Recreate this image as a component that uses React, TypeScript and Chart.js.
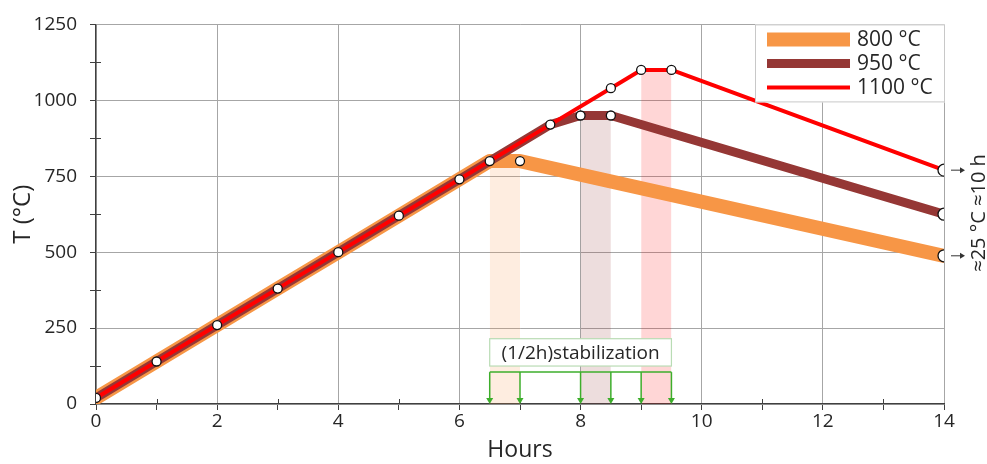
import React, { useEffect, useRef } from 'react';
import { Chart, registerables } from 'chart.js';
Chart.register(...registerables);

// ---- data ----
const rampHours = [0, 1, 2, 3, 4, 5, 6, 6.5];
const rampTemps = [20, 140, 260, 380, 500, 620, 740, 800];
const s800Hours = [7, 14];
const s800Temps = [800, 488];
const s950Hours = [7.5, 8, 8.5, 14];
const s950Temps = [920, 950, 950, 625];
const s1100Hours = [7.5, 8.5, 9, 9.5, 14];
const s1100Temps = [920, 1040, 1100, 1100, 770];
const seriesLabels = ['800 °C', '950 °C', '1100 °C'];
const seriesColors = ['#F79646', '#953735', '#FF0000'];
const seriesWidths = [14, 9, 4];
const stabStart = [6.5, 8, 9];
const stabEnd = [7, 8.5, 9.5];
const stabTemp = [800, 950, 1100];
const bandColors = ['rgba(247,150,70,0.17)', 'rgba(149,55,53,0.17)', 'rgba(255,0,0,0.16)'];
const stabLabel = '(1/2h)stabilization';
const stabBoxTemps = [125, 215];
const stabBracketTemp = 105;
const coolingNote = '≈25 °C ≈10 h';

const FONT = "'Open Sans', 'Segoe UI', sans-serif";
const TEXT = '#262626';

function pts(hs: number[], ts: number[]) {
  return hs.map((h, i) => ({ x: h, y: ts[i] }));
}

const annotations = {
  id: 'annotations',
  afterDatasetsDraw(chart: any) {
    const { ctx, chartArea, scales } = chart;
    const xs = scales.x, ys = scales.y;
    ctx.save();
    // inner halves of minor ticks
    ctx.strokeStyle = '#404040';
    ctx.lineWidth = 1;
    ys.ticks.forEach((t: any) => {
      if (t.value % 250 !== 0) {
        const py = Math.round(ys.getPixelForValue(t.value)) + 0.5;
        ctx.beginPath();
        ctx.moveTo(chartArea.left, py);
        ctx.lineTo(chartArea.left + 5, py);
        ctx.stroke();
      }
    });
    xs.ticks.forEach((t: any) => {
      if (t.value % 2 !== 0) {
        const px = Math.round(xs.getPixelForValue(t.value)) + 0.5;
        ctx.beginPath();
        ctx.moveTo(px, chartArea.bottom);
        ctx.lineTo(px, chartArea.bottom - 5);
        ctx.stroke();
      }
    });
    // stabilization box
    const bx0 = xs.getPixelForValue(stabStart[0]);
    const bx1 = xs.getPixelForValue(stabEnd[stabEnd.length - 1]);
    const by0 = ys.getPixelForValue(stabBoxTemps[1]);
    const by1 = ys.getPixelForValue(stabBoxTemps[0]);
    ctx.fillStyle = '#ffffff';
    ctx.fillRect(bx0, by0, bx1 - bx0, by1 - by0);
    ctx.strokeStyle = '#b9dcb4';
    ctx.lineWidth = 1.2;
    ctx.strokeRect(bx0, by0, bx1 - bx0, by1 - by0);
    ctx.fillStyle = TEXT;
    ctx.font = `19px ${FONT}`;
    ctx.textAlign = 'center';
    ctx.textBaseline = 'middle';
    ctx.fillText(stabLabel, (bx0 + bx1) / 2, (by0 + by1) / 2 + 1);
    // bracket
    const green = '#3dae2b';
    const yb = ys.getPixelForValue(stabBracketTemp);
    const y0 = ys.getPixelForValue(0);
    ctx.strokeStyle = green;
    ctx.fillStyle = green;
    ctx.lineWidth = 1.5;
    ctx.beginPath();
    ctx.moveTo(bx0, yb);
    ctx.lineTo(bx1, yb);
    ctx.stroke();
    const arrowXs = [...stabStart, ...stabEnd];
    arrowXs.forEach((h) => {
      const px = xs.getPixelForValue(h);
      ctx.beginPath();
      ctx.moveTo(px, yb);
      ctx.lineTo(px, y0 - 4);
      ctx.stroke();
      ctx.beginPath();
      ctx.moveTo(px - 3.5, y0 - 6);
      ctx.lineTo(px + 3.5, y0 - 6);
      ctx.lineTo(px, y0);
      ctx.closePath();
      ctx.fill();
    });
    // right arrows
    ctx.strokeStyle = '#333';
    ctx.fillStyle = '#333';
    ctx.lineWidth = 1;
    [s1100Temps[s1100Temps.length - 1], s800Temps[s800Temps.length - 1]].forEach((t) => {
      const px = xs.getPixelForValue(14) + 7;
      const py = ys.getPixelForValue(t);
      ctx.beginPath();
      ctx.moveTo(px, py);
      ctx.lineTo(px + 9, py);
      ctx.stroke();
      ctx.beginPath();
      ctx.moveTo(px + 9, py - 3);
      ctx.lineTo(px + 14, py);
      ctx.lineTo(px + 9, py + 3);
      ctx.closePath();
      ctx.fill();
    });
    // rotated note
    const midT = (s1100Temps[s1100Temps.length - 1] + s800Temps[s800Temps.length - 1]) / 2;
    ctx.save();
    ctx.translate(chartArea.right + 35, ys.getPixelForValue(midT));
    ctx.rotate(-Math.PI / 2);
    ctx.fillStyle = TEXT;
    ctx.font = `20px ${FONT}`;
    ctx.textAlign = 'center';
    ctx.textBaseline = 'middle';
    ctx.fillText(coolingNote, 0, 0);
    ctx.restore();
    // legend
    const lw = 190, lh = 78;
    const lx = chartArea.right - lw + 1, ly = chartArea.top;
    ctx.fillStyle = '#ffffff';
    ctx.fillRect(lx, ly, lw, lh);
    ctx.strokeStyle = '#c8c8c8';
    ctx.lineWidth = 1;
    ctx.strokeRect(lx + 0.5, ly + 0.5, lw - 1, lh - 1);
    seriesLabels.forEach((lab, i) => {
      const yy = ly + 15 + i * 24;
      ctx.strokeStyle = seriesColors[i];
      ctx.lineWidth = seriesWidths[i];
      ctx.lineCap = 'butt';
      ctx.beginPath();
      ctx.moveTo(lx + 12, yy);
      ctx.lineTo(lx + 95, yy);
      ctx.stroke();
      ctx.fillStyle = TEXT;
      ctx.font = `21px ${FONT}`;
      ctx.textAlign = 'left';
      ctx.textBaseline = 'middle';
      ctx.fillText(lab, lx + 102, yy + 1);
    });
    ctx.restore();
  },
};

export default function App() {
  const ref = useRef<HTMLCanvasElement>(null);
  useEffect(() => {
    const n = rampHours.length;
    const zeros = (k: number) => new Array(k).fill(0);
    const datasets: any[] = [
      {
        label: seriesLabels[2],
        data: pts([...rampHours, ...s1100Hours], [...rampTemps, ...s1100Temps]),
        borderColor: seriesColors[2],
        borderWidth: 4,
        pointRadius: [...new Array(n + s1100Hours.length - 1).fill(4.5), 6],
        pointBackgroundColor: '#fff',
        pointBorderColor: '#111',
        pointBorderWidth: 1.3,
      },
      {
        label: seriesLabels[1],
        data: pts([...rampHours, ...s950Hours], [...rampTemps, ...s950Temps]),
        borderColor: seriesColors[1],
        borderWidth: 9,
        borderCapStyle: 'round',
        pointRadius: [...zeros(n), 0, 4.5, 4.5, 6],
        pointBackgroundColor: '#fff',
        pointBorderColor: '#111',
        pointBorderWidth: 1.3,
      },
      {
        label: seriesLabels[0],
        data: pts([...rampHours, ...s800Hours], [...rampTemps, ...s800Temps]),
        borderColor: seriesColors[0],
        borderWidth: 14,
        borderCapStyle: 'round',
        pointRadius: [...zeros(n), 4.5, 6],
        pointBackgroundColor: '#fff',
        pointBorderColor: '#111',
        pointBorderWidth: 1.3,
      },
      ...stabStart.map((s, i) => ({
        label: 'band' + i,
        data: pts([s, stabEnd[i]], [stabTemp[i], stabTemp[i]]),
        borderWidth: 0,
        borderColor: 'rgba(0,0,0,0)',
        backgroundColor: bandColors[i],
        fill: 'origin',
        pointRadius: 0,
      })),
    ];
    const chart = new Chart(ref.current!, {
      type: 'line',
      data: { datasets },
      options: {
        animation: false,
        responsive: true,
        maintainAspectRatio: false,
        layout: { padding: { top: 23, right: 43, left: 0, bottom: 0 } },
        elements: { line: { tension: 0, borderJoinStyle: 'round', borderCapStyle: 'butt' } },
        plugins: { legend: { display: false }, tooltip: { enabled: false } },
        scales: {
          x: {
            type: 'linear',
            min: 0,
            max: 14,
            afterFit: (s: any) => { s.height = 60; },
            ticks: {
              stepSize: 1,
              autoSkip: false,
              maxRotation: 0,
              color: TEXT,
              font: { family: FONT, size: 19 },
              padding: 0,
              callback: (v: any) => (v % 2 === 0 ? String(v) : ''),
            },
            grid: {
              color: (c: any) => (c.tick && c.tick.value % 2 === 0 ? '#a6a6a6' : 'rgba(0,0,0,0)'),
              tickColor: '#404040',
              tickLength: 6,
              lineWidth: 1,
            },
            border: { color: '#404040', width: 1.3 },
            title: { display: true, text: 'Hours', color: TEXT, font: { family: FONT, size: 23 }, padding: { top: 0, bottom: 0 } },
          },
          y: {
            min: 0,
            max: 1250,
            afterFit: (s: any) => { s.width = 96; },
            ticks: {
              stepSize: 125,
              autoSkip: false,
              color: TEXT,
              font: { family: FONT, size: 19 },
              padding: 13,
              callback: (v: any) => (v % 250 === 0 ? String(v) : ''),
            },
            grid: {
              color: (c: any) => (c.tick && c.tick.value % 250 === 0 ? '#a6a6a6' : 'rgba(0,0,0,0)'),
              tickColor: '#404040',
              tickLength: 6,
              lineWidth: 1,
            },
            border: { color: '#404040', width: 1.3 },
            title: { display: true, text: 'T (°C)', color: TEXT, font: { family: FONT, size: 24 }, padding: { top: 9, bottom: 0 } },
          },
        },
      },
      plugins: [annotations],
    });
    return () => chart.destroy();
  }, []);
  return (
    <div style={{ position: 'fixed', left: 0, top: 0, width: 987, height: 464, background: '#fff' }}>
      <canvas ref={ref} />
    </div>
  );
}
